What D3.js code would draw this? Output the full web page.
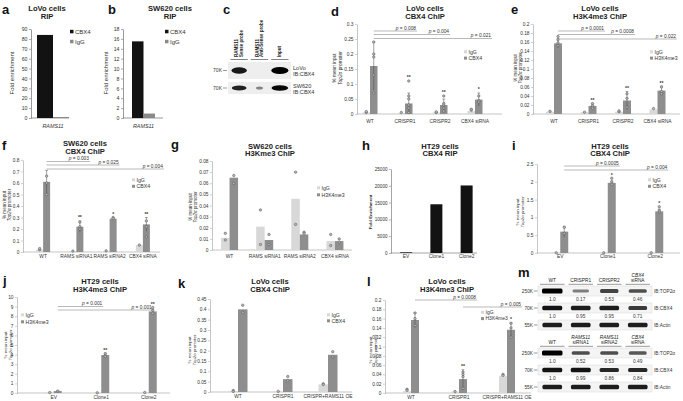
<!DOCTYPE html>
<html><head><meta charset="utf-8">
<script src="https://cdn.jsdelivr.net/npm/d3@7/dist/d3.min.js"></script>
<style>
html,body{margin:0;padding:0;background:#fff;overflow:hidden}
svg{display:block;font-family:"Liberation Sans",Arial,Helvetica,sans-serif}
</style></head><body>
<svg id="fig" width="683" height="401"></svg>
<script>
// ================= DATA =================
const aCats = ["RAMS11"];
const aCBX4 = [84];
const aIgG = [1];
const aTicks = [0,10,20,30,40,50,60,70,80,90];

const bCats = ["RAMS11"];
const bCBX4 = [15.5];
const bIgG = [0.9];
const bTicks = [0,2,4,6,8,10,12,14,16,18];

const cLaneTop = ["RAMS11","RAMS11","Input"];
const cLaneBottom = ["Sense probe","Anti-Sense probe",""];
const cCells = ["LoVo","SW620"];
const cProbe = ["IB:CBX4","IB:CBX4"];
const cMarkers = ["70K","70K"];
const cBands = [[0.85,0,1],[0.8,0.2,0.95]];

const dCats = ["WT","CRISPR1","CRISPR2","CBX4 siRNA"];
const dIgG = [0.005,0.003,0.005,0.01];
const dCBX4 = [0.16,0.035,0.03,0.048];
const dCBX4Err = [0.08,0.035,0.02,0.022];
const dIgGDots = [[0.005,0.008],[0.005],[0.005,0.007],[0.013,0.016]];
const dCBX4Dots = [[0.24,0.2,0.19,0.13,0.07],[0.11,0.06,0.05,0.03,0.02,0.005],[0.06,0.035,0.03,0.02,0.01],[0.06,0.045,0.04]];
const dStars = ["","**","**","*"];
const dP = ["0.008","0.004","0.021"];
const dTicks = [0,0.05,0.1,0.15,0.2,0.25,0.3];

const eCats = ["WT","CRISPR1","CRISPR2","CBX4 siRNA"];
const eIgG = [0.005,0.004,0.005,0.01];
const eH3 = [0.157,0.018,0.03,0.052];
const eH3Err = [0.01,0.006,0.02,0.01];
const eIgGDots = [[0.006],[0.004],[0.005,0.007],[0.012]];
const eH3Dots = [[0.172,0.165,0.158,0.152],[0.023,0.018,0.013],[0.045,0.035,0.015],[0.06,0.05,0.045]];
const eStars = ["","**","**","**"];
const eP = ["0.0001","0.0008","0.022"];
const eTicks = [0,0.02,0.04,0.06,0.08,0.1,0.12,0.14,0.16,0.18,0.2];

const fCats = ["WT","RAMS siRNA1","RAMS siRNA2","CBX4 siRNA"];
const fIgG = [0.02,0.008,0.01,0.06];
const fCBX4 = [0.61,0.22,0.29,0.24];
const fCBX4Err = [0.1,0.05,0.01,0.06];
const fIgGDots = [[0.02,0.03],[0.008],[0.01],[0.06]];
const fCBX4Dots = [[0.66,0.6,0.5],[0.26,0.22,0.2],[0.3,0.29],[0.27,0.22,0.13]];
const fStars = ["","**","*","**"];
const fP = ["0.003","0.025","0.004"];
const fTicks = [0,0.1,0.2,0.3,0.4,0.5,0.6,0.7,0.8];

const gCats = ["WT","RAMS siRNA1","RAMS siRNA2","CBX4 siRNA"];
const gIgG = [0.011,0.021,0.046,0.008];
const gH3 = [0.065,0.009,0.014,0.008];
const gIgGDots = [[0.015,0.009],[0.036,0.005],[0.07,0.023],[0.014,0.004]];
const gH3Dots = [[0.067,0.06],[0.014,0.005],[0.016,0.015],[0.01,0.007]];
const gTicks = [0,0.01,0.02,0.03,0.04,0.05,0.06,0.07,0.08];

const hCats = ["EV","Clone1","Clone2"];
const hCBX4 = [200,14500,20100];
const hTicks = [0,5000,10000,15000,20000,25000];

const iCats = ["EV","Clone1","Clone2"];
const iIgG = [0.005,0.005,0.005];
const iCBX4 = [0.6,1.97,1.17];
const iCBX4Err = [0.15,0.05,0.06];
const iIgGDots = [[0.005],[0.005],[0.005]];
const iCBX4Dots = [[0.72,0.55],[2.1,2.0,1.93],[1.3,1.2,1.15]];
const iStars = ["","*","*"];
const iP = ["0.0005","0.004"];
const iTicks = [0,0.5,1,1.5,2,2.5];

const jCats = ["EV","Clone1","Clone2"];
const jIgG = [0.05,0.02,0.05];
const jH3 = [0.2,3.95,8.5];
const jH3Err = [0.05,0.2,0.2];
const jIgGDots = [[0.05],[0.02],[0.05]];
const jH3Dots = [[0.2],[4.1,3.9,3.8],[8.9,8.6,8.3]];
const jStars = ["","**","**"];
const jP = ["0.001","0.001"];
const jTicks = [0,1,2,3,4,5,6,7,8,9,10];

const kCats = ["WT","CRISPR1","CRISPR+RAMS11 OE"];
const kIgG = [0.005,0.003,0.037];
const kCBX4 = [0.4,0.062,0.18];
const kIgGDots = [[0.007,0.003],[0.003],[0.04,0.036]];
const kCBX4Dots = [[0.42,0.385],[0.075,0.055],[0.195,0.17]];
const kTicks = [0,0.05,0.1,0.15,0.2,0.25,0.3,0.35,0.4,0.45];

const lCats = ["WT","CRISPR1","CRISPR+RAMS11 OE"];
const lIgG = [0.004,0.003,0.037];
const lH3 = [0.157,0.03,0.136];
const lH3Err = [0.016,0.02,0.015];
const lIgGDots = [[0.008,0.006],[0.003],[0.04,0.038]];
const lH3Dots = [[0.172,0.16,0.145],[0.045,0.04,0.035,0.01],[0.15,0.14,0.12]];
const lStars = ["","**","*"];
const lP = ["0.0008","0.005"];
const lTicks = [0,0.02,0.04,0.06,0.08,0.1,0.12,0.14,0.16,0.18,0.2];

const mTopLabels = ["WT","CRISPR1","CRISPR2","CBX4 siRNA"];
const mBotLabels = ["WT","RAMS11 siRNA1","RAMS11 siRNA2","CBX4 siRNA"];
const mProbes = ["IB:TOP2\u03b1","IB:CBX4","IB:Actin"];
const mMarkers = ["250K","70K","55K"];
const mTopQuant = [[1.0,0.17,0.53,0.46],[1.0,0.95,0.95,0.71]];
const mBotQuant = [[1.0,0.52,0.53,0.49],[1.0,0.99,0.86,0.84]];
const mTopBands = [[1,0.35,0.65,0.6],[0.9,0.85,0.85,0.7],[0.85,0.85,0.85,0.85]];
const mBotBands = [[1,0.6,0.6,0.55],[0.9,0.9,0.8,0.8],[0.85,0.85,0.85,0.85]];

// ================= DRAWING =================
const svg = d3.select("#fig");
const IGG = "#d8d8d8", MAIN = "#8e8e8e";
const num = d => String(+d.toFixed(4));
const defs = svg.append("defs");
defs.append("filter").attr("id","blur").attr("x","-50%").attr("y","-100%").attr("width","200%").attr("height","300%")
  .append("feGaussianBlur").attr("stdDeviation",0.75);
defs.append("filter").attr("id","blur2").attr("x","-50%").attr("y","-100%").attr("width","200%").attr("height","300%")
  .append("feGaussianBlur").attr("stdDeviation",0.45);

function letter(t,x,y){
  svg.append("text").attr("x",x).attr("y",y).attr("font-size",13).attr("font-weight","bold").attr("fill","#111").text(t);
}
function title(lines,x,y1,y2,fs){
  const t = svg.append("text").attr("text-anchor","middle").attr("font-weight","bold").attr("font-size",fs||7.6).attr("fill","#222");
  t.append("tspan").attr("x",x).attr("y",y1).text(lines[0]);
  t.append("tspan").attr("x",x).attr("y",y2).text(lines[1]);
}
function yTitle(lines,x,yc,fs,bold){
  const t = svg.append("text").attr("transform",`translate(${x},${yc}) rotate(-90)`)
    .attr("text-anchor","middle").attr("font-size",fs).attr("fill","#333").attr("font-weight",bold?"bold":null);
  lines.forEach((parts,i)=>{
    parts.forEach((p,j)=>{
      const ts = t.append("tspan").attr("font-style",p[1]?"italic":null).text(p[0]);
      if(j===0) ts.attr("x",0).attr("dy", i===0 ? 0 : "1.15em");
    });
  });
}
const TOP2 = [[["% mean input",false]],[["Top2\u03b1",true],[" promoter",false]]];

function pText(g,x,y,val){
  const t = g.append("text").attr("x",x).attr("y",y).attr("text-anchor","end").attr("font-size",4.8).attr("fill","#333");
  t.append("tspan").attr("font-style","italic").text("p");
  t.append("tspan").text(" = "+val);
}

function panel(c){
  const g = svg.append("g");
  const y = d3.scaleLinear().domain([0,c.max]).range([c.y0,c.y1]);
  const x = d3.scaleBand().domain(c.cats).range(c.band);
  const inner = d3.scaleBand().domain(c.series.map(s=>s.key)).range([-c.gw/2,c.gw/2]);
  const cx = k => x(k)+x.bandwidth()/2;
  const bx = (k,key) => cx(k)+inner(key)+inner.bandwidth()/2;
  const axc = c.axisColor || "#a0a0a0";
  const ya = g.append("g").attr("transform",`translate(${c.ax},0)`)
    .call(d3.axisLeft(y).tickValues(c.ticks).tickFormat(num).tickSize(c.tick||2).tickSizeOuter(0).tickPadding(c.pad||1.5));
  ya.attr("font-size",null).attr("font-family",null);
  ya.select(".domain").attr("stroke",axc).attr("stroke-width",0.6);
  ya.selectAll(".tick line").attr("stroke",axc).attr("stroke-width",0.5);
  ya.selectAll(".tick text").attr("font-size",c.tickFs||4.8).attr("fill","#333");
  g.append("line").attr("x1",c.ax).attr("x2",c.axEnd).attr("y1",y(0)).attr("y2",y(0))
    .attr("stroke",axc).attr("stroke-width",0.6);
  g.selectAll(null).data(c.cats).join("text")
    .attr("x",k=>cx(k)).attr("y",c.catY).attr("text-anchor","middle")
    .attr("font-size",c.catFs||4.9).attr("font-style",c.catItalic?"italic":null).attr("fill","#333").text(k=>k);
  c.series.forEach(s=>{
    const rows = c.cats.map((k,i)=>({k,i,v:s.values[i]}));
    g.selectAll(null).data(rows).join("rect")
      .attr("x",d=>cx(d.k)+inner(s.key)).attr("width",inner.bandwidth())
      .attr("y",d=>y(d.v)).attr("height",d=>y(0)-y(d.v)).attr("fill",s.color);
    if(s.err){
      const er = rows.filter(d=>s.err[d.i]>0);
      g.selectAll(null).data(er).join("line")
        .attr("x1",d=>bx(d.k,s.key)).attr("x2",d=>bx(d.k,s.key))
        .attr("y1",d=>y(Math.max(0,d.v-s.err[d.i]))).attr("y2",d=>y(d.v+s.err[d.i]))
        .attr("stroke","#444").attr("stroke-width",0.5);
      g.selectAll(null).data(er).join("line")
        .attr("x1",d=>bx(d.k,s.key)-1.3).attr("x2",d=>bx(d.k,s.key)+1.3)
        .attr("y1",d=>y(d.v+s.err[d.i])).attr("y2",d=>y(d.v+s.err[d.i]))
        .attr("stroke","#444").attr("stroke-width",0.5);
    }
    if(s.dots){
      const pts = [];
      rows.forEach(d=>s.dots[d.i].forEach(v=>pts.push({k:d.k,v})));
      g.selectAll(null).data(pts).join("circle")
        .attr("cx",d=>bx(d.k,s.key)).attr("cy",d=>y(d.v)).attr("r",1.25)
        .attr("fill","#b5b5b5").attr("stroke","#4a4a4a").attr("stroke-width",0.45);
    }
    if(s.stars){
      g.selectAll(null).data(rows.filter(d=>s.stars[d.i])).join("text")
        .attr("x",d=>bx(d.k,s.key)).attr("text-anchor","middle")
        .attr("y",d=>{
          const top = Math.max(d.v+(s.err?s.err[d.i]:0), ...(s.dots?s.dots[d.i]:[0]));
          return y(top)-1.6;
        })
        .attr("font-size",5).attr("font-weight","bold").attr("fill","#333").text(d=>s.stars[d.i]);
    }
  });
  if(c.legend){
    const L = c.legend, sw = L.sw||3;
    c.series.forEach((s,j)=>{
      g.append("rect").attr("x",L.x).attr("y",L.y+j*L.dy-sw-0.2).attr("width",sw).attr("height",sw).attr("fill",s.color);
      g.append("text").attr("x",L.x+sw+1.5).attr("y",L.y+j*L.dy).attr("font-size",L.fs||5.2).attr("fill","#333").text(s.key);
    });
  }
  (c.sig||[]).forEach(sg=>{
    const x1 = bx(c.cats[sg.from],sg.key), x2 = cx(c.cats[sg.to])+sg.dx;
    g.append("line").attr("x1",x1).attr("x2",x2).attr("y1",sg.y).attr("y2",sg.y)
      .attr("stroke","#8a8a8a").attr("stroke-width",0.6);
    pText(g,x2-1,sg.y-1.4,sg.label);
  });
}

// ---------- a ----------
letter("a",2,14);
title(["LoVo cells","RIP"],47,10.5,18.5);
yTitle([[["Fold enrichment",false]]],14,73,6);
panel({cats:aCats,series:[{key:"CBX4",values:aCBX4,color:"#121212"},{key:"IgG",values:aIgG,color:"#8a8a8a"}],
  max:90,ticks:aTicks,y0:118,y1:29,ax:31,axEnd:69,band:[37,69],gw:32,catY:128,catItalic:true,catFs:5.4,
  axisColor:"#555",tickFs:5.2,legend:{x:70,y:33.5,dy:10,sw:3.5,fs:6}});

// ---------- b ----------
letter("b",108,14);
title(["SW620  cells","RIP"],170,10.5,18.5);
yTitle([[["Fold enrichment",false]]],108,73,6);
panel({cats:bCats,series:[{key:"CBX4",values:bCBX4,color:"#121212"},{key:"IgG",values:bIgG,color:"#8a8a8a"}],
  max:18,ticks:bTicks,y0:118,y1:29,ax:123,axEnd:163,band:[132,155],gw:23,catY:128,catItalic:true,catFs:5.4,
  axisColor:"#555",tickFs:5.2,legend:{x:165,y:33.5,dy:10,sw:3.5,fs:6}});

// ---------- c ----------
letter("c",223,14);
(function(){
  const g = svg.append("g");
  const lx = d3.scaleBand().domain(d3.range(cLaneTop.length)).range([229,290]);
  const bw = lx.bandwidth();
  const rowY = [62,82], rowH = [17,12];
  cLaneTop.forEach((t,i)=>{
    const L = lx(i)+bw/2, two = cLaneBottom[i] !== "";
    const tx = g.append("text").attr("transform",`translate(${two?L-1:L+1.6},57) rotate(-90)`)
      .attr("font-size",4.5).attr("font-weight","bold").attr("fill","#222");
    tx.append("tspan").attr("x",0).attr("dy",0).text(t);
    if(two) tx.append("tspan").attr("x",0).attr("dy","1.1em").text(cLaneBottom[i]);
    g.append("line").attr("x1",lx(i)+1.5).attr("x2",lx(i)+bw-1.5).attr("y1",59.5).attr("y2",59.5)
      .attr("stroke","#333").attr("stroke-width",0.6);
  });
  cBands.forEach((row,r)=>{
    g.append("rect").attr("x",lx.range()[0]-1).attr("y",rowY[r]).attr("width",lx.range()[1]-lx.range()[0]+2)
      .attr("height",rowH[r]).attr("fill","#eeeeee");
    g.selectAll(null).data(row.map((v,i)=>({v,i})).filter(d=>d.v>0)).join("ellipse")
      .attr("cx",d=>lx(d.i)+bw/2).attr("cy",rowY[r]+rowH[r]/2)
      .attr("rx",d=>(bw-3)/2*(0.25+0.75*d.v)).attr("ry",d=>1.2+2.3*d.v*(rowH[r]/17))
      .attr("fill","#000").attr("opacity",d=>Math.min(1,0.3+0.7*d.v)).attr("filter","url(#blur)");
    const yc = rowY[r]+rowH[r]/2;
    g.append("text").attr("x",222).attr("y",yc+1.8).attr("text-anchor","end").attr("font-size",5).attr("fill","#333").text(cMarkers[r]);
    g.append("line").attr("x1",223).attr("x2",227).attr("y1",yc).attr("y2",yc).attr("stroke","#333").attr("stroke-width",0.5);
    const t = g.append("text").attr("font-size",5.6).attr("fill","#333");
    t.append("tspan").attr("x",293).attr("y",yc-0.5).text(cCells[r]);
    t.append("tspan").attr("x",293).attr("y",yc+5.7).text(cProbe[r]);
  });
})();

// ---------- d ----------
letter("d",331,16);
title(["LoVo cells","CBX4 ChIP"],425,10.5,18.5);
yTitle(TOP2,336,68,4.8);
panel({cats:dCats,series:[{key:"IgG",values:dIgG,color:IGG,dots:dIgGDots},
  {key:"CBX4",values:dCBX4,color:MAIN,err:dCBX4Err,dots:dCBX4Dots,stars:dStars}],
  max:0.3,ticks:dTicks,y0:114,y1:24,ax:357,axEnd:502,band:[352.5,492.5],gw:15,catY:123,
  legend:{x:464,y:53.5,dy:6.3},
  sig:[{from:0,to:1,key:"CBX4",dx:12,y:31,label:dP[0]},{from:0,to:2,key:"CBX4",dx:10,y:34.5,label:dP[1]},{from:0,to:3,key:"CBX4",dx:17,y:38.5,label:dP[2]}]});

// ---------- e ----------
letter("e",511,14);
title(["LoVo cells","H3K4me3 ChIP"],600,10.5,18.5);
yTitle(TOP2,516.5,68,4.5);
panel({cats:eCats,series:[{key:"IgG",values:eIgG,color:IGG,dots:eIgGDots},
  {key:"H3K4me3",values:eH3,color:MAIN,err:eH3Err,dots:eH3Dots,stars:eStars}],
  max:0.2,ticks:eTicks,y0:114,y1:24,ax:533,axEnd:680,band:[536.75,674.75],gw:16,catY:123,
  legend:{x:650,y:53.5,dy:6.3},
  sig:[{from:0,to:1,key:"H3K4me3",dx:16.5,y:31,label:eP[0]},{from:0,to:2,key:"H3K4me3",dx:12,y:34.5,label:eP[1]},{from:0,to:3,key:"H3K4me3",dx:19.5,y:39,label:eP[2]}]});

// ---------- f ----------
letter("f",2,150);
title(["SW620 cells","CBX4 ChIP"],85,146,153.5);
yTitle(TOP2,5.5,205,4.6);
panel({cats:fCats,series:[{key:"IgG",values:fIgG,color:IGG,dots:fIgGDots},
  {key:"CBX4",values:fCBX4,color:MAIN,err:fCBX4Err,dots:fCBX4Dots,stars:fStars}],
  max:0.8,ticks:fTicks,y0:252,y1:160,ax:23,axEnd:160,band:[26.5,159.5],gw:14,catY:258,
  legend:{x:132,y:181.5,dy:6.5},
  sig:[{from:0,to:1,key:"CBX4",dx:13.6,y:161.5,label:fP[0]},{from:0,to:2,key:"CBX4",dx:10,y:165,label:fP[1]},{from:0,to:3,key:"CBX4",dx:21,y:169,label:fP[2]}]});

// ---------- g ----------
letter("g",171,149);
title(["SW620 cells","H3Kme3 ChIP"],270,148.5,156);
yTitle(TOP2,191.5,207,4.5);
panel({cats:gCats,series:[{key:"IgG",values:gIgG,color:IGG,dots:gIgGDots},
  {key:"H3K4me3",values:gH3,color:MAIN,dots:gH3Dots}],
  max:0.08,ticks:gTicks,y0:250,y1:161,ax:212,axEnd:352,band:[212,352.5],gw:17,catY:258,
  legend:{x:317,y:189.5,dy:7}});

// ---------- h ----------
letter("h",362,150);
title(["HT29 cells","CBX4 RIP"],440,148.5,156);
yTitle([[["Fold Enrichment",false]]],372,212,4.4,true);
panel({cats:hCats,series:[{key:"CBX4",values:hCBX4,color:"#121212"}],
  max:25000,ticks:hTicks,y0:253,y1:169,ax:391,axEnd:477,band:[391,481.75],gw:12,catY:258,
  axisColor:"#666",tickFs:4.6});

// ---------- i ----------
letter("i",512,150);
title(["HT29 cells","CBX4 ChIP"],610,148.5,156);
yTitle(TOP2,519,212,4.4);
panel({cats:iCats,series:[{key:"IgG",values:iIgG,color:IGG,dots:iIgGDots},
  {key:"CBX4",values:iCBX4,color:MAIN,err:iCBX4Err,dots:iCBX4Dots,stars:iStars}],
  max:2.5,ticks:iTicks,y0:253,y1:164,ax:537,axEnd:680,band:[536.5,679],gw:16,catY:258,
  legend:{x:648,y:181.5,dy:6.5},
  sig:[{from:0,to:1,key:"CBX4",dx:12,y:166,label:iP[0]},{from:0,to:2,key:"CBX4",dx:13,y:170,label:iP[1]}]});

// ---------- j ----------
letter("j",3,285);
title(["HT29 cells","H3K4me3 ChIP"],100,283.5,291.5);
yTitle(TOP2,7,345,4.4);
panel({cats:jCats,series:[{key:"IgG",values:jIgG,color:IGG,dots:jIgGDots},
  {key:"H3K4me3",values:jH3,color:MAIN,err:jH3Err,dots:jH3Dots,stars:jStars}],
  max:10,ticks:jTicks,y0:393,y1:297,ax:17,axEnd:170,band:[30,172.5],gw:16,catY:399,
  legend:{x:21,y:316.5,dy:7},
  sig:[{from:0,to:1,key:"H3K4me3",dx:2,y:306.5,label:jP[0]},{from:0,to:2,key:"H3K4me3",dx:4,y:310,label:jP[1]}]});

// ---------- k ----------
letter("k",178,288);
title(["LoVo cells","CBX4 ChIP"],270,283.5,291.5);
yTitle(TOP2,190.5,350,4.4);
panel({cats:kCats,series:[{key:"IgG",values:kIgG,color:IGG,dots:kIgGDots},
  {key:"CBX4",values:kCBX4,color:MAIN,dots:kCBX4Dots}],
  max:0.45,ticks:kTicks,y0:392,y1:299,ax:210,axEnd:352,band:[215.5,350.5],gw:19,catY:398,
  legend:{x:327,y:316.5,dy:6}});

// ---------- l ----------
letter("l",367,286);
title(["LoVo cells","H3K4me3 ChIP"],447,283.5,291.5);
yTitle(TOP2,371.5,350,4.4);
panel({cats:lCats,series:[{key:"IgG",values:lIgG,color:IGG,dots:lIgGDots},
  {key:"H3K4me3",values:lH3,color:MAIN,err:lH3Err,dots:lH3Dots,stars:lStars}],
  max:0.2,ticks:lTicks,y0:393,y1:300,ax:385,axEnd:531,band:[387,531],gw:16,catY:399,
  legend:{x:481,y:314,dy:6.3,fs:5},
  sig:[{from:0,to:1,key:"H3K4me3",dx:18,y:300,label:lP[0]},{from:1,to:2,key:"H3K4me3",dx:15,y:307,label:lP[1]}]});

// ---------- m ----------
letter("m",518,277);
(function(){
  const g = svg.append("g");
  const lx = d3.scaleBand().domain(d3.range(4)).range([538,652]);
  const bw = lx.bandwidth();
  const x0 = lx.range()[0], x1 = lx.range()[1];
  const blocks = [
    {labels:mTopLabels,bands:mTopBands,quant:mTopQuant,labY:282,rows:[286,303,320]},
    {labels:mBotLabels,bands:mBotBands,quant:mBotQuant,labY:344,rows:[348,365,382]}
  ];
  const fmtQ = v => v===1 ? "1.0" : String(v);
  blocks.forEach(b=>{
    b.labels.forEach((t,i)=>{
      const parts = t.split(" "), L = lx(i)+bw/2;
      if(parts.length===2){
        g.append("text").attr("x",L).attr("y",b.labY-5.5).attr("text-anchor","middle").attr("font-size",4.8).attr("font-style","italic").attr("fill","#222").text(parts[0]);
        g.append("text").attr("x",L).attr("y",b.labY).attr("text-anchor","middle").attr("font-size",4.8).attr("fill","#222").text(parts[1]);
      } else {
        g.append("text").attr("x",L).attr("y",b.labY).attr("text-anchor","middle").attr("font-size",4.8).attr("fill","#222").text(t);
      }
      g.append("line").attr("x1",lx(i)+2).attr("x2",lx(i)+bw-2).attr("y1",b.labY+2.3).attr("y2",b.labY+2.3).attr("stroke","#333").attr("stroke-width",0.5);
    });
    b.rows.forEach((ry,r)=>{
      g.append("rect").attr("x",x0).attr("y",ry).attr("width",x1-x0).attr("height",10)
        .attr("fill","#f4f4f4").attr("stroke","#cfcfcf").attr("stroke-width",0.4);
      g.selectAll(null).data(b.bands[r].map((v,i)=>({v,i}))).join("rect")
        .attr("x",d=>lx(d.i)+bw/2-(bw-8)/2*(0.7+0.3*d.v)).attr("width",d=>(bw-8)*(0.7+0.3*d.v))
        .attr("y",d=>ry+5-(1+1.4*d.v)).attr("height",d=>2*(1+1.4*d.v)).attr("rx",1.5)
        .attr("fill","#000").attr("opacity",d=>0.2+0.8*d.v).attr("filter","url(#blur2)");
      g.append("text").attr("x",x0-5).attr("y",ry+6.8).attr("text-anchor","end").attr("font-size",4.8).attr("fill","#333").text(mMarkers[r]);
      g.append("line").attr("x1",x0-4.2).attr("x2",x0-0.5).attr("y1",ry+5).attr("y2",ry+5).attr("stroke","#333").attr("stroke-width",0.5);
      g.append("text").attr("x",x1+2).attr("y",ry+6.8).attr("font-size",4.8).attr("fill","#333").text(mProbes[r]);
      if(r<2){
        g.selectAll(null).data(b.quant[r].map((v,i)=>({v,i}))).join("text")
          .attr("x",d=>lx(d.i)+bw/2).attr("y",ry+15.3).attr("text-anchor","middle").attr("font-size",4.8).attr("fill","#333").text(d=>fmtQ(d.v));
      }
    });
  });
})();
</script>
</body></html>
